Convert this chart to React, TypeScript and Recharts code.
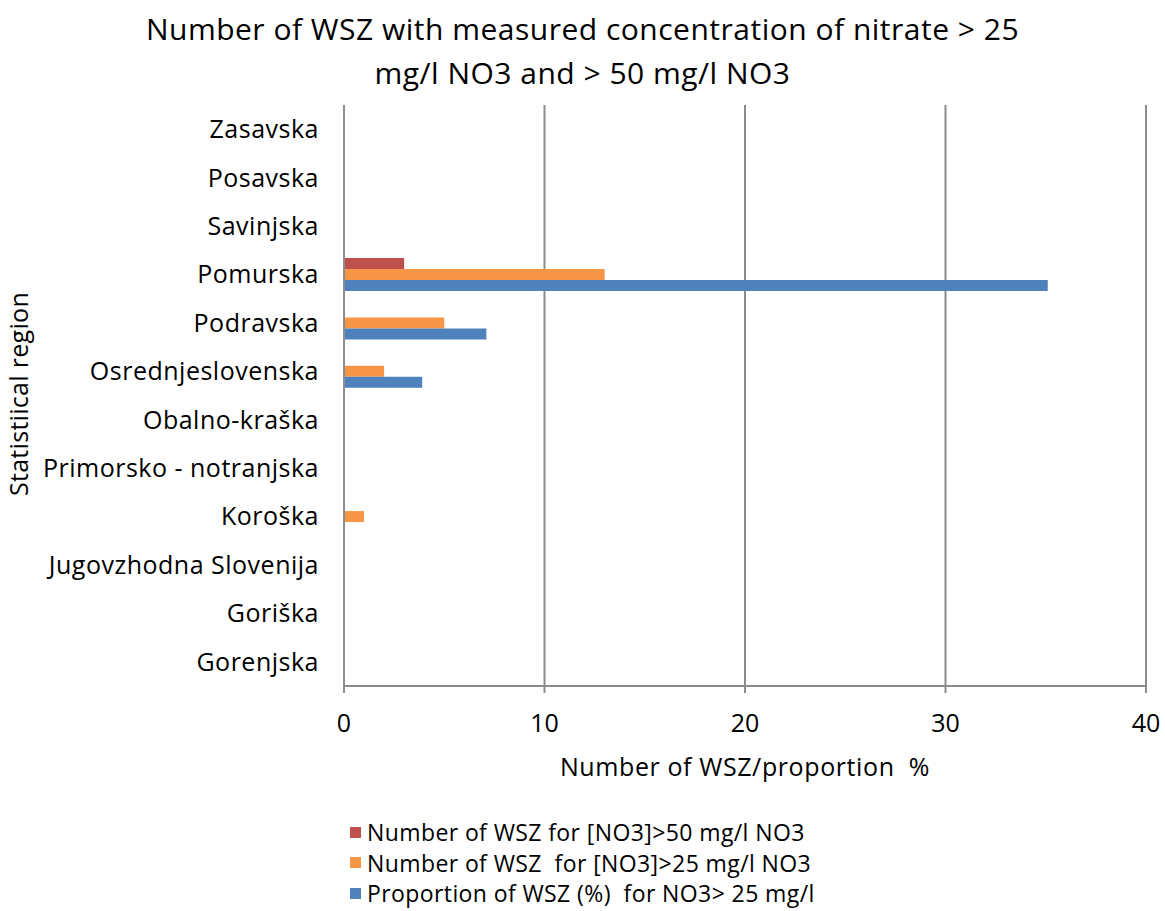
import React from 'react'
import { BarChart, Bar, XAxis, YAxis, CartesianGrid } from 'recharts'

const regions = [
  'Zasavska',
  'Posavska',
  'Savinjska',
  'Pomurska',
  'Podravska',
  'Osrednjeslovenska',
  'Obalno-kraška',
  'Primorsko - notranjska',
  'Koroška',
  'Jugovzhodna Slovenija',
  'Goriška',
  'Gorenjska',
]
const over50 = [0, 0, 0, 3, 0, 0, 0, 0, 0, 0, 0, 0]
const over25 = [0, 0, 0, 13, 5, 2, 0, 0, 1, 0, 0, 0]
const proportion25 = [0, 0, 0, 35.1, 7.1, 3.9, 0, 0, 0, 0, 0, 0]
const xTicks = [0, 10, 20, 30, 40]

const seriesNames = {
  over50: 'Number of WSZ for [NO3]>50 mg/l NO3',
  over25: 'Number of WSZ  for [NO3]>25 mg/l NO3',
  prop: 'Proportion of WSZ (%)  for NO3> 25 mg/l',
}
const colors = { over50: '#C0504D', over25: '#F79646', prop: '#4F81BD' }

const data = regions.map((name, i) => ({
  name,
  over50: over50[i],
  over25: over25[i],
  prop: proportion25[i],
}))

const font = '"Open Sans", sans-serif'

function LegendBox() {
  const items = [
    { key: 'over50', label: seriesNames.over50 },
    { key: 'over25', label: seriesNames.over25 },
    { key: 'prop', label: seriesNames.prop },
  ]
  return (
    <div style={{ position: 'absolute', left: 350, top: 817, fontFamily: font, fontSize: 23, letterSpacing: 0.4, color: '#000' }}>
      {items.map(it => (
        <div key={it.key} style={{ display: 'flex', alignItems: 'center', height: 30.5 }}>
          <span style={{ width: 11, height: 11, background: colors[it.key as keyof typeof colors], marginRight: 6, display: 'inline-block' }} />
          <span style={{ whiteSpace: 'pre' }}>{it.label}</span>
        </div>
      ))}
    </div>
  )
}

export default function App() {
  return (
    <div style={{ position: 'absolute', left: 0, top: 0, width: 1165, height: 911, background: '#fff', fontFamily: font }}>
      <div style={{ position: 'absolute', top: 7, left: 0, width: 1165, textAlign: 'center', fontSize: 30, letterSpacing: 0.5, lineHeight: '44px', color: '#000' }}>
        Number of WSZ with measured concentration of nitrate &gt; 25
        <br />
        mg/l NO3 and &gt; 50 mg/l NO3
      </div>
      <div style={{ position: 'absolute', left: 745 - 250, width: 500, top: 749, textAlign: 'center', fontSize: 25, letterSpacing: 0.6, whiteSpace: 'pre', color: '#000' }}>
        Number of WSZ/proportion  %
      </div>
      <div style={{ position: 'absolute', left: 18, top: 394, width: 0, height: 0 }}>
        <div style={{ position: 'absolute', transform: 'translate(-50%, -50%) rotate(-90deg)', whiteSpace: 'nowrap', fontSize: 25, letterSpacing: 0.3, color: '#000' }}>
          Statistiical region
        </div>
      </div>
      <BarChart
        width={1165}
        height={911}
        data={data}
        layout="vertical"
        margin={{ top: 105, right: 19, bottom: 165, left: 0 }}
        barCategoryGap="16%"
        barGap={0}
      >
        <CartesianGrid horizontal={false} stroke="#8c8c8c" strokeWidth={2} />
        <XAxis
          type="number"
          domain={[0, 40]}
          ticks={xTicks}
          interval={0}
          stroke="#8c8c8c"
          strokeWidth={2}
          tickSize={7}
          tickMargin={21}
          tick={{ fill: '#000', fontSize: 25, fontFamily: font }}
          height={60}
        />
        <YAxis
          type="category"
          dataKey="name"
          width={344}
          interval={0}
          stroke="#8c8c8c"
          strokeWidth={2}
          tickLine={false}
          tickSize={0}
          tickMargin={25}
          tick={{ fill: '#000', fontSize: 25, fontFamily: font, letterSpacing: 0.5 }}
        />
        <Bar dataKey="over50" name={seriesNames.over50} fill={colors.over50} isAnimationActive={false} />
        <Bar dataKey="over25" name={seriesNames.over25} fill={colors.over25} isAnimationActive={false} />
        <Bar dataKey="prop" name={seriesNames.prop} fill={colors.prop} isAnimationActive={false} />
      </BarChart>
      <LegendBox />
    </div>
  )
}
